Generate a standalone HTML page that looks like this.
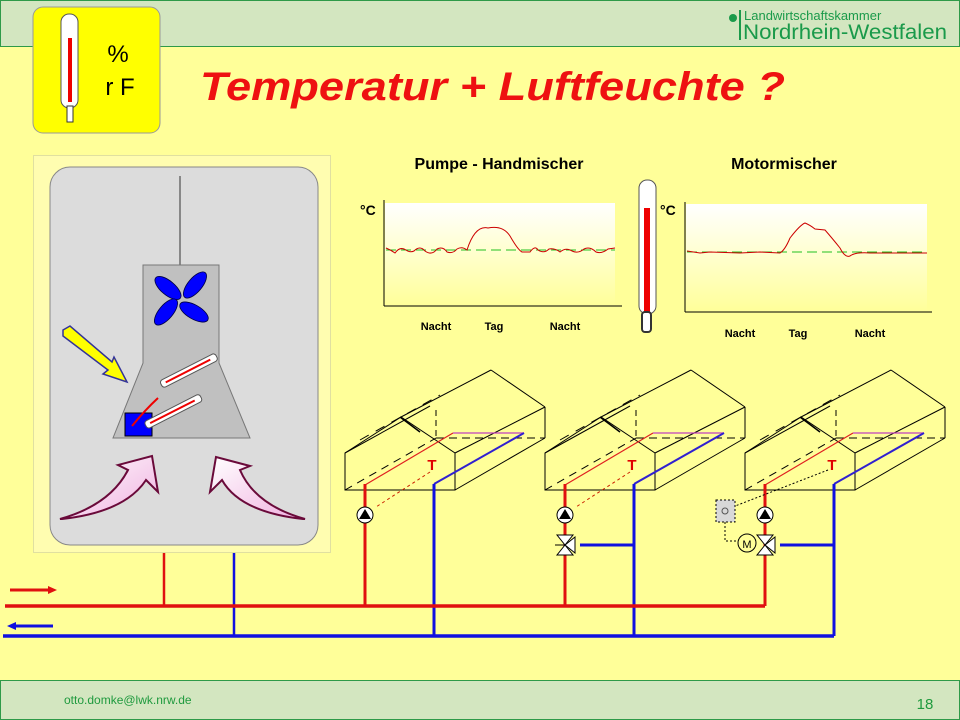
<!DOCTYPE html>
<html><head><meta charset="utf-8"><style>
html,body{margin:0;padding:0;background:#ffff99;}
svg{display:block;font-family:"Liberation Sans",sans-serif;}
</style></head><body>
<svg width="960" height="720" viewBox="0 0 960 720" xmlns="http://www.w3.org/2000/svg">
<defs>
<linearGradient id="cg" x1="0" y1="0" x2="0" y2="1"><stop offset="0" stop-color="#ffffff"/><stop offset="1" stop-color="#ffff99"/></linearGradient>
<linearGradient id="pk" x1="0" y1="0" x2="1" y2="1"><stop offset="0" stop-color="#ffffff"/><stop offset="1" stop-color="#f0b0e0"/></linearGradient>
<g id="gh">
 <g fill="none" stroke="#000" stroke-width="1">
  <polygon points="345,453 401,417 455,453 455,490 345,490"/>
  <line x1="401" y1="417" x2="491" y2="370"/>
  <line x1="345" y1="453" x2="430" y2="406"/>
  <line x1="491" y1="370" x2="545" y2="407"/>
  <line x1="455" y1="453" x2="545" y2="407"/>
  <line x1="455" y1="490" x2="545" y2="438"/>
  <line x1="545" y1="407" x2="545" y2="438"/>
  <line x1="345" y1="490" x2="436" y2="438" stroke-dasharray="8,6"/>
  <line x1="436" y1="438" x2="545" y2="438" stroke-dasharray="8,5"/>
  <line x1="436" y1="410" x2="436" y2="438" stroke-dasharray="6,4"/>
  <line x1="360" y1="440" x2="440" y2="395" stroke-dasharray="10,8"/>
  <line x1="400" y1="417" x2="420" y2="432" stroke-width="1.5"/>
 </g>
 <line x1="365" y1="485" x2="453" y2="433" stroke="#e02020" stroke-width="1.2"/>
 <line x1="453" y1="433" x2="524" y2="433" stroke="#c040c0" stroke-width="1.2"/>
 <line x1="524" y1="433" x2="434" y2="484" stroke="#3020d0" stroke-width="2"/>
 <text x="432" y="470" font-size="15" font-weight="bold" fill="#e00000" text-anchor="middle">T</text>
 <line x1="365" y1="484" x2="365" y2="606" stroke="#e01010" stroke-width="3"/>
 <line x1="434" y1="484" x2="434" y2="636" stroke="#1010e0" stroke-width="3"/>
 <circle cx="365" cy="515" r="8" fill="#fff" stroke="#000"/>
 <polygon points="359,519 371,519 365,509" fill="#000"/>
</g>
</defs>
<rect width="960" height="720" fill="#ffff99"/>
<rect x="0.5" y="0.5" width="959" height="46" fill="#d3e6c0" stroke="#2e9a48"/>
<rect x="0.5" y="680.5" width="959" height="39" fill="#d3e6c0" stroke="#2e9a48"/>
<text x="64" y="704" font-size="12" fill="#1f9a3e">otto.domke@lwk.nrw.de</text>
<text x="925" y="709" font-size="15" fill="#1f9a3e" text-anchor="middle">18</text>
<circle cx="733" cy="18" r="4" fill="#1a9a4a"/>
<rect x="739" y="10" width="2" height="30" fill="#1a9a4a"/>
<text x="744" y="20" font-size="13" fill="#1a9a4a">Landwirtschaftskammer</text>
<text x="743" y="39" font-size="21" fill="#1a9a4a" textLength="204" lengthAdjust="spacingAndGlyphs">Nordrhein-Westfalen</text>
<rect x="33" y="7" width="127" height="126" rx="10" fill="#ffff00" stroke="#999"/>
<rect x="61" y="14" width="17" height="94" rx="8" fill="#fff" stroke="#555"/>
<rect x="68" y="38" width="4" height="64" fill="#e00"/>
<rect x="67" y="106" width="6" height="16" fill="#fff" stroke="#333"/>
<text x="118" y="62" font-size="24" text-anchor="middle">%</text>
<text x="120" y="95" font-size="24" text-anchor="middle">r F</text>
<text x="200" y="100" font-size="40" font-weight="bold" font-style="italic" fill="#ee1111" textLength="585" lengthAdjust="spacingAndGlyphs">Temperatur + Luftfeuchte ?</text>
<rect x="33.5" y="155.5" width="297" height="397" fill="#fffdb0" stroke="#e0e0a0"/>
<rect x="50" y="167" width="268" height="378" rx="20" fill="#dcdcdc" stroke="#888"/>
<line x1="180" y1="176" x2="180" y2="265" stroke="#888" stroke-width="2"/>
<polygon points="143,265 219,265 219,363 250,438 113,438 143,363" fill="#c0c0c0" stroke="#777"/>
<g fill="#0000ff" stroke="#000040" stroke-width="0.8">
 <ellipse cx="168" cy="288" rx="16" ry="7" transform="rotate(40 168 288)"/>
 <ellipse cx="195" cy="285" rx="16" ry="7" transform="rotate(-50 195 285)"/>
 <ellipse cx="166" cy="312" rx="16" ry="7" transform="rotate(-50 166 312)"/>
 <ellipse cx="194" cy="312" rx="16" ry="7" transform="rotate(30 194 312)"/>
</g>
<polygon points="63,330 70,326 112,362 114,357 127,382 103,374 108,370 63,336" fill="#ffff00" stroke="#333399" stroke-width="1.5"/>
<rect x="125" y="413" width="27" height="23" fill="#0000ff" stroke="#000"/>
<path d="M132,426 Q145,410 158,398" stroke="#e00" stroke-width="2" fill="none"/>
<g transform="rotate(-27 188 371)"><rect x="158" y="367" width="62" height="8" rx="3" fill="#fff" stroke="#555"/><rect x="163" y="370" width="50" height="2" fill="#e00"/></g>
<g transform="rotate(-27 176 410)"><rect x="142" y="406" width="62" height="8" rx="3" fill="#fff" stroke="#555"/><rect x="147" y="409" width="50" height="2" fill="#e00"/></g>
<path d="M60,519 Q110,505 128,470 L118,465 L152,456 L158,492 L146,480 Q125,512 62,519 Z" fill="url(#pk)" stroke="#6a0a3a" stroke-width="2"/>
<path d="M305,519 Q255,505 240,470 L250,466 L216,457 L210,492 L222,480 Q240,512 303,519 Z" fill="url(#pk)" stroke="#6a0a3a" stroke-width="2"/>
<text x="499" y="169" font-size="16" font-weight="bold" text-anchor="middle">Pumpe - Handmischer</text>
<text x="784" y="169" font-size="16" font-weight="bold" text-anchor="middle">Motormischer</text>
<rect x="385" y="203" width="230" height="103" fill="url(#cg)"/>
<rect x="686" y="204" width="241" height="108" fill="url(#cg)"/>
<g stroke="#000" fill="none">
<path d="M384,306 L384,200 M384,306 L622,306"/>
<path d="M685,312 L685,202 M685,312 L932,312"/>
</g>
<line x1="386" y1="250" x2="615" y2="250" stroke="#20c020" stroke-dasharray="10,5"/>
<line x1="687" y1="252" x2="927" y2="252" stroke="#20c020" stroke-dasharray="10,5"/>
<path d="M386,248 Q391,250 395,253 Q400,246 406,250 Q410,253 414,251 Q420,245 425,251 Q432,256 437,249 Q443,246 447,252 Q453,254 457,249 Q462,246 467,250 Q475,225 488,228 Q503,225 510,236 Q518,250 522,252 L530,252 Q535,245 538,250 Q544,254 549,249 Q555,248 560,252 Q566,247 572,251 Q578,254 584,249 Q590,246 596,252 Q602,254 608,249 L615,248" stroke="#cc0000" fill="none"/>
<path d="M687,251 L700,253 L710,252 L740,253 L760,252 L780,253 Q785,250 790,238 Q800,225 805,223 Q810,225 815,229 L825,230 Q832,238 840,248 Q845,258 850,256 Q855,252 870,253 L927,253" stroke="#cc0000" fill="none"/>
<text x="360" y="215" font-size="14" font-weight="bold">°C</text>
<text x="660" y="215" font-size="14" font-weight="bold">°C</text>
<g font-size="11" font-weight="bold" text-anchor="middle">
<text x="436" y="330">Nacht</text><text x="494" y="330">Tag</text><text x="565" y="330">Nacht</text>
<text x="740" y="337">Nacht</text><text x="798" y="337">Tag</text><text x="870" y="337">Nacht</text>
</g>
<rect x="639" y="180" width="17" height="134" rx="8" fill="#fff" stroke="#555"/>
<rect x="644" y="208" width="6" height="104" fill="#e00"/>
<rect x="642" y="312" width="9" height="20" rx="3" fill="#fff" stroke="#333" stroke-width="2"/>
<use href="#gh"/>
<use href="#gh" transform="translate(200,0)"/>
<use href="#gh" transform="translate(400,0)"/>
<line x1="430" y1="472" x2="376" y2="507" stroke="#cc2200" stroke-dasharray="3,3"/>
<line x1="630" y1="472" x2="576" y2="507" stroke="#cc2200" stroke-dasharray="3,3"/>
<line x1="828" y1="470" x2="730" y2="508" stroke="#000" stroke-dasharray="2,2"/>
<line x1="580" y1="545" x2="634" y2="545" stroke="#1010e0" stroke-width="3"/>
<line x1="780" y1="545" x2="833" y2="545" stroke="#1010e0" stroke-width="3"/>
<g fill="#fff" stroke="#000">
<polygon points="557,535 573,535 565,545"/><polygon points="557,555 573,555 565,545"/><polygon points="575,537 575,553 565,545"/>
<polygon points="757,535 773,535 765,545"/><polygon points="757,555 773,555 765,545"/><polygon points="775,537 775,553 765,545"/>
</g>
<line x1="555" y1="545" x2="565" y2="545" stroke="#000"/>
<rect x="716" y="500" width="19" height="22" fill="#d8d8d8" stroke="#000" stroke-dasharray="2,2"/>
<circle cx="725" cy="511" r="3" fill="none" stroke="#555"/>
<path d="M725,522 L725,541 L737,541" stroke="#000" stroke-dasharray="2,2" fill="none"/>
<circle cx="747" cy="543" r="9" fill="#ffff99" stroke="#000"/>
<text x="747" y="548" font-size="11" text-anchor="middle">M</text>
<line x1="164" y1="553" x2="164" y2="606" stroke="#e01010" stroke-width="2.5"/>
<line x1="234" y1="553" x2="234" y2="636" stroke="#1010e0" stroke-width="2.5"/>
<line x1="5" y1="606" x2="765" y2="606" stroke="#e01010" stroke-width="3.5"/>
<line x1="3" y1="636" x2="834" y2="636" stroke="#1010e0" stroke-width="3.5"/>
<line x1="10" y1="590" x2="50" y2="590" stroke="#e01010" stroke-width="3"/>
<polygon points="48,586 57,590 48,594" fill="#e01010"/>
<line x1="14" y1="626" x2="53" y2="626" stroke="#1010e0" stroke-width="3"/>
<polygon points="16,622 7,626 16,630" fill="#1010e0"/>
</svg>
</body></html>
